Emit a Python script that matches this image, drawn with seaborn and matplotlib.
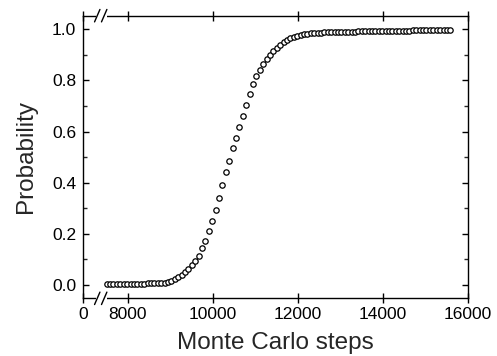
import numpy as np
import pandas as pd
import matplotlib
matplotlib.use("Agg")
import matplotlib.pyplot as plt
import seaborn as sns

# ---- data ----
x_start = 7500
x_step = 80
probability = [
    0.003, 0.003, 0.003, 0.003, 0.003, 0.004, 0.004, 0.004, 0.004, 0.005,
    0.005, 0.005, 0.006, 0.006, 0.006, 0.007, 0.007, 0.008, 0.010, 0.014,
    0.022, 0.031, 0.041, 0.051, 0.063, 0.078, 0.095, 0.115, 0.143, 0.173,
    0.210, 0.252, 0.293, 0.340, 0.390, 0.440, 0.485, 0.534, 0.573, 0.618,
    0.660, 0.704, 0.746, 0.784, 0.816, 0.840, 0.863, 0.882, 0.900, 0.914,
    0.927, 0.939, 0.949, 0.958, 0.965, 0.971, 0.975, 0.978, 0.980, 0.982,
    0.984, 0.985, 0.986, 0.987, 0.988, 0.988, 0.989, 0.989, 0.990, 0.990,
    0.990, 0.991, 0.991, 0.991, 0.992, 0.992, 0.992, 0.993, 0.993, 0.993,
    0.993, 0.994, 0.994, 0.994, 0.994, 0.995, 0.995, 0.995, 0.995, 0.995,
    0.996, 0.996, 0.996, 0.996, 0.996, 0.997, 0.997, 0.997, 0.997, 0.997,
    0.997, 0.998,
]
steps = [x_start + x_step * i for i in range(len(probability))]

x_ticks = [6943, 8000, 10000, 12000, 14000, 16000]
x_tick_labels = ["0", "8000", "10000", "12000", "14000", "16000"]
y_ticks = [0.0, 0.2, 0.4, 0.6, 0.8, 1.0]
y_tick_labels = ["0.0", "0.2", "0.4", "0.6", "0.8", "1.0"]

df = pd.DataFrame({"steps": steps, "prob": probability})

sns.set_style("ticks")
plt.rcParams["font.family"] = ["Liberation Sans", "DejaVu Sans"]

fig = plt.figure(figsize=(4.97, 3.56), dpi=100)
ax = fig.add_axes([0.167, 0.162, 0.775, 0.794])

sns.scatterplot(data=df, x="steps", y="prob", ax=ax, marker="o",
                s=15, facecolor="white", edgecolor="black", linewidth=0.9,
                zorder=3)

ax.set_xlim(6943, 16000)
ax.set_ylim(-0.052, 1.053)
ax.set_xticks(x_ticks)
ax.set_xticklabels(x_tick_labels)
ax.set_yticks(y_ticks)
ax.set_yticklabels(y_tick_labels)
ax.set_yticks(np.arange(0.1, 1.0, 0.2), minor=True)

for s in ax.spines.values():
    s.set_visible(True)
    s.set_linewidth(1.0)
    s.set_color("black")

ax.tick_params(axis="x", which="major", direction="inout", length=7, width=1.0,
               top=True, labelsize=12.5, pad=3, colors="black")
ax.tick_params(axis="y", which="major", direction="in", length=4.5, width=1.0,
               right=True, labelsize=12.5, pad=5, colors="black")
ax.tick_params(axis="y", which="minor", direction="in", length=3, width=1.0,
               right=True)

ax.set_xlabel("Monte Carlo steps", fontsize=17.5, labelpad=7)
ax.set_ylabel("Probability", fontsize=17.5, labelpad=11)

# axis break marks "//" on bottom and top spines
for yb in (0.0, 1.0):
    ax.add_patch(plt.Rectangle((0.033, yb - 0.01), 0.03, 0.02,
                               transform=ax.transAxes, facecolor="white",
                               edgecolor="none", clip_on=False, zorder=5))
    for xb in (0.037, 0.055):
        ax.plot([xb - 0.007, xb + 0.007], [yb - 0.022, yb + 0.022],
                transform=ax.transAxes, color="black", lw=1.0,
                clip_on=False, zorder=6)

fig.savefig("out.png", dpi=100)
